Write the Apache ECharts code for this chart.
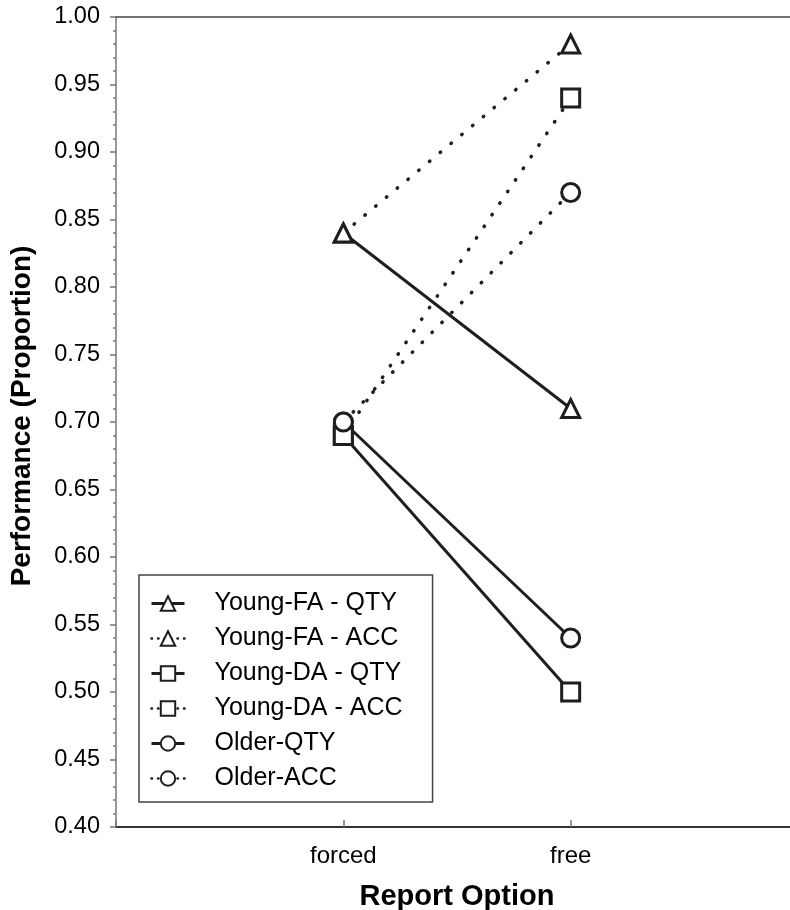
<!DOCTYPE html>
<html>
<head>
<meta charset="utf-8">
<script src="https://cdn.jsdelivr.net/npm/echarts@6/dist/echarts.min.js"></script>
<style>
html,body{margin:0;padding:0;background:#fff;}
#chart{width:790px;height:910px;}
</style>
</head>
<body>
<div id="chart"></div>
<script>
var categories = ['forced', 'free'];
var seriesNames = ['Young-FA - QTY', 'Young-FA - ACC', 'Young-DA - QTY', 'Young-DA - ACC', 'Older-QTY', 'Older-ACC'];
var youngFA_QTY = [0.84, 0.71];
var youngFA_ACC = [0.84, 0.98];
var youngDA_QTY = [0.69, 0.50];
var youngDA_ACC = [0.69, 0.94];
var older_QTY = [0.70, 0.54];
var older_ACC = [0.70, 0.87];
var yMin = 0.40, yMax = 1.00, yStep = 0.05;
// category slots: forced = 1, free = 2 on a 0..3 span (right end cropped by the window)
var xMin = 0, xMax = 3;
var catPos = [1, 2];

function pts(arr) { return arr.map(function (v, i) { return [catPos[i], v]; }); }

var ink = '#1e1e1e';
var FONT = '"Liberation Sans", Arial, sans-serif';

function mk(name, data, symbol, dotted) {
  return {
    name: name,
    type: 'line',
    data: pts(data),
    symbol: symbol,
    symbolSize: 18,
    showSymbol: true,
    lineStyle: dotted
      ? { color: ink, width: 3.5, type: [0.5, 13.5], cap: 'round' }
      : { color: ink, width: 3, type: 'solid' },
    itemStyle: { color: '#ffffff', borderColor: ink, borderWidth: 3 },
    emphasis: { disabled: true },
    z: dotted ? 2 : 3
  };
}

var legendData = seriesNames.map(function (n, i) {
  var dotted = (i % 2) === 1;
  return dotted
    ? { name: n, lineStyle: { color: ink, width: 2.5, type: [0.5, 6], cap: 'round' } }
    : { name: n, lineStyle: { color: ink, width: 3, type: 'solid' } };
});

function xLabel(v) {
  var r = Math.round(v);
  if (Math.abs(v - r) > 1e-6) return '';
  var k = catPos.indexOf(r);
  return k >= 0 ? categories[k] : '';
}

var chart = echarts.init(document.getElementById('chart'), null, { renderer: 'canvas' });
chart.setOption({
  animation: false,
  backgroundColor: '#ffffff',
  grid: { left: 116, top: 17, width: 682, height: 810, containLabel: false, outerBoundsMode: 'none' },
  legend: {
    orient: 'vertical',
    left: 139,
    top: 575,
    padding: [16, 30, 11, 11],
    backgroundColor: '#ffffff',
    borderColor: '#444',
    borderWidth: 1.5,
    borderRadius: 0,
    itemWidth: 33,
    itemHeight: 18,
    itemGap: 10,
    textStyle: { fontFamily: FONT, fontSize: 25, color: '#000', padding: [0, 0, 0, 25] },
    data: legendData
  },
  xAxis: [{
    type: 'value',
    min: xMin,
    max: xMax,
    interval: 1,
    position: 'bottom',
    axisLine: { show: true, lineStyle: { color: '#333', width: 2 } },
    axisTick: { show: true, inside: true, length: 7, lineStyle: { color: '#777', width: 1.5 } },
    axisLabel: { show: true, fontFamily: FONT, fontSize: 24, color: '#000', margin: 17, formatter: xLabel },
    splitLine: { show: false },
    name: 'Report Option',
    nameLocation: 'middle',
    nameGap: 55,
    nameTextStyle: { fontFamily: FONT, fontSize: 29, fontWeight: 'bold', color: '#000' }
  }, {
    type: 'value',
    min: xMin,
    max: xMax,
    position: 'top',
    axisLine: { show: true, lineStyle: { color: '#444', width: 1.5 } },
    axisTick: { show: false },
    axisLabel: { show: false },
    splitLine: { show: false }
  }],
  yAxis: {
    type: 'value',
    min: yMin,
    max: yMax,
    interval: yStep,
    axisLine: { show: true, lineStyle: { color: '#777', width: 1.5 } },
    axisTick: { show: true, inside: false, length: 6, lineStyle: { color: '#777', width: 1.5 } },
    minorTick: { show: true, splitNumber: 5, length: 3, lineStyle: { color: '#777', width: 1.5 } },
    axisLabel: { fontFamily: FONT, fontSize: 23.5, color: '#000', margin: 16,
      formatter: function (v) { return v.toFixed(2); } },
    splitLine: { show: false },
    name: 'Performance (Proportion)',
    nameLocation: 'middle',
    nameGap: 80,
    nameTextStyle: { fontFamily: FONT, fontSize: 28, fontWeight: 'bold', color: '#000', padding: [0, 0, 0, 12] }
  },
  series: [
    mk(seriesNames[0], youngFA_QTY, 'triangle', false),
    mk(seriesNames[1], youngFA_ACC, 'triangle', true),
    mk(seriesNames[2], youngDA_QTY, 'rect', false),
    mk(seriesNames[3], youngDA_ACC, 'rect', true),
    mk(seriesNames[4], older_QTY, 'circle', false),
    mk(seriesNames[5], older_ACC, 'circle', true)
  ]
});
</script>
</body>
</html>
